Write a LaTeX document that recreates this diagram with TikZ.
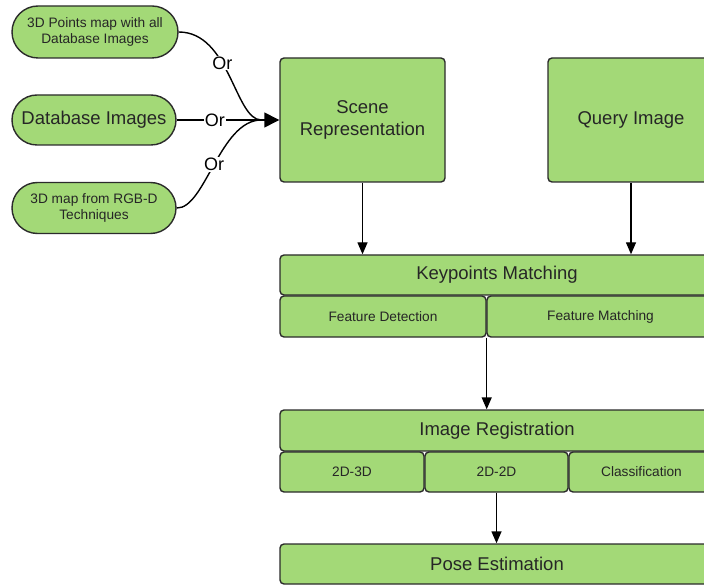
\documentclass[tikz,border=0pt]{standalone}
\usepackage{fontspec}
\setmainfont{Liberation Sans}
\usetikzlibrary{shapes.misc,arrows.meta}
\definecolor{boxgreen}{HTML}{A3D977}
\definecolor{edge}{HTML}{2B2B2B}
\begin{document}
\begin{tikzpicture}[x=1pt,y=-1pt,
  box/.style={draw=edge,fill=boxgreen,line width=1.4pt,rounded corners=4pt,
    inner sep=0pt,align=center,text=black!85},
  pill/.style={draw=edge,fill=boxgreen,line width=1.4pt,rounded rectangle,
    inner sep=0pt,align=center,text=black!85},
  big/.style={font=\fontsize{18.5}{21.5}\selectfont},
  small/.style={font=\fontsize{13.7}{16.5}\selectfont},
  link/.style={draw=black,line width=1.4pt},
  arr/.style={link,-{Triangle[length=12pt,width=10pt]}},
  bigarr/.style={link,-{Triangle[length=15pt,width=15pt]}},
  orlab/.style={fill=white,inner sep=1pt,font=\fontsize{18}{21}\selectfont}]
\useasboundingbox (0,0) rectangle (704,585);
\clip (0,0) rectangle (704,585);

% sources of the scene representation
\node[pill,small,minimum width=166pt,minimum height=52pt] (pts) at (95,32)
  {3D Points map with all\\Database Images};
\node[pill,big,minimum width=164pt,minimum height=50pt] (db) at (94,120)
  {Database Images};
\node[pill,small,minimum width=164pt,minimum height=51pt] (rgbd) at (94,208)
  {3D map from RGB-D\\Techniques};

% top blocks
\node[box,big,minimum width=165pt,minimum height=124pt] (scene) at (362.5,120)
  {Scene\\Representation};
\node[box,big,minimum width=166pt,minimum height=124pt] (query) at (631,120)
  {Query Image};

% keypoints matching
\node[box,big,minimum width=434pt,minimum height=40pt] (kp) at (497,275)
  {Keypoints Matching};
\node[box,small,minimum width=206pt,minimum height=41pt] (fd) at (383,316.5)
  {Feature Detection};
\node[box,small,minimum width=227pt,minimum height=41pt] (fm) at (600.5,316.5)
  {Feature Matching};

% image registration
\node[box,big,minimum width=434pt,minimum height=41pt] (reg) at (497,430.5)
  {Image Registration};
\node[box,small,minimum width=144pt,minimum height=40pt] (d3) at (352,472)
  {2D-3D};
\node[box,small,minimum width=143pt,minimum height=40pt] (d2) at (496.5,472)
  {2D-2D};
\node[box,small,minimum width=145pt,minimum height=40pt] (cls) at (641.5,472)
  {Classification};

% pose estimation
\node[box,big,minimum width=434pt,minimum height=40pt] (pose) at (497,564)
  {Pose Estimation};

% joining point in front of the scene block
\coordinate (join) at ([xshift=-18pt]scene.west);

\draw[link] (pts.east) .. controls (230,32) and (235,120) ..
  node[orlab,pos=0.4] {Or} (join);
\draw[link] (db.east) -- node[orlab,pos=0.45] {Or} (join);
\draw[link] (rgbd.east) .. controls (205,209) and (220,120) ..
  node[orlab,pos=0.5] {Or} (join);
\draw[bigarr] (join) -- (scene.west);

\draw[arr] (scene.south) -- (scene.south |- kp.north);
\draw[arr] (query.south) -- (query.south |- kp.north);
\draw[arr] (fd.south east) -- (fd.south east |- reg.north);
\draw[arr] (d2.south) -- (d2.south |- pose.north);
\end{tikzpicture}
\end{document}
